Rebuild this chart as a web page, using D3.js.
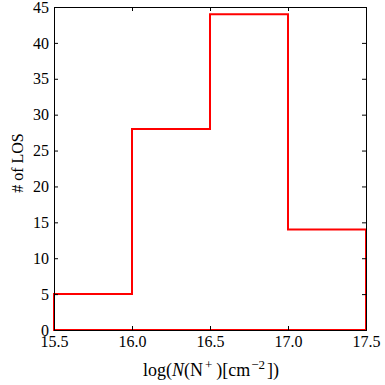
<!DOCTYPE html>
<html>
<head>
<meta charset="utf-8">
<script src="https://cdn.jsdelivr.net/npm/d3@7"></script>
<style>
  body { margin: 0; background: #fff; }
</style>
</head>
<body>
<div id="chart"></div>
<script>
// histogram data
var binEdges = [15.5, 16.0, 16.5, 17.0, 17.5]
var counts = [5, 28, 44, 14]
var xTicks = [15.5, 16.0, 16.5, 17.0, 17.5]
var yTicks = [0, 5, 10, 15, 20, 25, 30, 35, 40, 45]

var width = 385, height = 385
var margin = {left: 54, right: 19, top: 7, bottom: 55}
var serif = "'Liberation Serif', 'Times New Roman', serif"

var svg = d3.select("#chart")
  .append("svg")
    .attr("width", width)
    .attr("height", height)

var x = d3.scaleLinear().domain([15.5, 17.5]).range([margin.left, width - margin.right])
var y = d3.scaleLinear().domain([0, 45]).range([height - margin.bottom, margin.top])

// step outline of the histogram
var pts = [[binEdges[0], 0]]
counts.forEach(function(c, i) {
  pts.push([binEdges[i], c])
  pts.push([binEdges[i + 1], c])
})
pts.push([binEdges[binEdges.length - 1], 0])

var line = d3.line().x(function(d) { return x(d[0]) }).y(function(d) { return y(d[1]) })

svg.append("path")
  .attr("d", line(pts) + "Z")
  .attr("fill", "none")
  .attr("stroke", "#ff0000")
  .attr("stroke-width", 2)

// axes, ticks pointing inwards on all four sides
var tickLen = 4
var fmt = d3.format(".1f")

svg.append("g")
  .attr("transform", "translate(0," + y(0) + ")")
  .call(d3.axisBottom(x).tickValues(xTicks).tickSize(-tickLen).tickPadding(6).tickFormat(fmt))
svg.append("g")
  .attr("transform", "translate(0," + y(45) + ")")
  .call(d3.axisTop(x).tickValues(xTicks).tickSize(-tickLen).tickFormat(""))
svg.append("g")
  .attr("transform", "translate(" + x(15.5) + ",0)")
  .call(d3.axisLeft(y).tickValues(yTicks).tickSize(-tickLen).tickPadding(5))
svg.append("g")
  .attr("transform", "translate(" + x(17.5) + ",0)")
  .call(d3.axisRight(y).tickValues(yTicks).tickSize(-tickLen).tickFormat(""))

svg.selectAll(".domain").attr("stroke", "#000").attr("stroke-width", 1)
svg.selectAll(".tick line").attr("stroke", "#000")
svg.selectAll(".tick text")
  .style("font-family", serif)
  .style("font-size", "16px")
  .attr("fill", "#000")

// axis labels
svg.append("text")
  .attr("transform", "translate(23,163) rotate(-90)")
  .attr("text-anchor", "middle")
  .style("font-family", serif)
  .style("font-size", "16px")
  .text("# of LOS")

var xl = svg.append("text")
  .attr("x", 211)
  .attr("y", 376)
  .attr("text-anchor", "middle")
  .style("font-family", serif)
  .style("font-size", "18px")
xl.append("tspan").text("log(")
xl.append("tspan").style("font-style", "italic").text("N")
xl.append("tspan").text("(N")
xl.append("tspan").attr("dx", 2).attr("dy", -7).style("font-size", "13px").text("+")
xl.append("tspan").attr("dx", 4).attr("dy", 7).text(")[cm")
xl.append("tspan").attr("dx", 1).attr("dy", -7).style("font-size", "13px").text("\u22122")
xl.append("tspan").attr("dx", 2).attr("dy", 7).text("])")
</script>
</body>
</html>
